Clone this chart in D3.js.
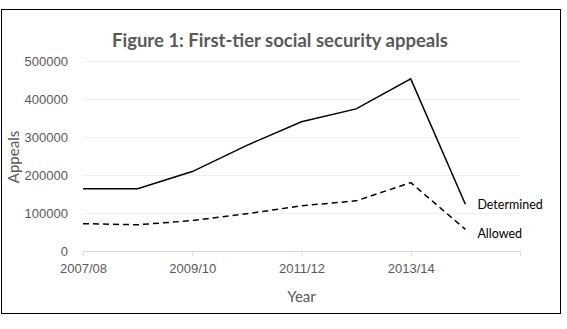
<!DOCTYPE html>
<html>
<head>
<meta charset="utf-8">
<script src="https://cdn.jsdelivr.net/npm/d3@7"></script>
<style>
    body { margin: 0; background: #fff; }
    svg { display: block; font-family: Lato, "Open Sans", sans-serif; }
</style>
</head>
<body>
<svg></svg>
<script>
// values
var years = ["2007/08", "2008/09", "2009/10", "2010/11", "2011/12", "2012/13", "2013/14", "2014/15"]
var determined = [164000, 164000, 209000, 278000, 340000, 374000, 453000, 123000]
var allowed = [72000, 69000, 80000, 98000, 119000, 132000, 180000, 57000]
var yTicks = [0, 100000, 200000, 300000, 400000, 500000]

var width = 567;
var height = 329;
var padL = 83, padR = 520, padT = 61, padB = 251;

var svg = d3.select("svg")
    .attr("width", width)
    .attr("height", height)

// chart frame
svg.append("rect")
    .attr("x", 1.5).attr("y", 9.5)
    .attr("width", 559).attr("height", 304)
    .attr("fill", "#fff")
    .attr("stroke", "#000")
    .attr("stroke-width", 1)

// one extra slot after the last year, like the original axis
var xScale = d3.scaleLinear()
    .domain([0, years.length])
    .range([padL, padR])

var yScale = d3.scaleLinear()
    .domain([0, 500000])
    .range([padB, padT])

var yAxis = d3.axisLeft(yScale)
    .tickValues(yTicks)
    .tickFormat(d3.format("d"))
    .tickSize(-(padR - padL))
    .tickPadding(15)

var gy = svg.append("g")
    .attr("transform", "translate(" + padL + ",0)")
    .call(yAxis)
gy.select(".domain").remove()
gy.selectAll("line").attr("stroke", "#efefef").attr("stroke-width", 1)
gy.selectAll("text")
    .attr("fill", "#595959")
    .style("font-size", "13px")

var xAxis = d3.axisBottom(xScale)
    .tickValues([0, 2, 4, 6, 8])
    .tickFormat(i => years[i] || "")
    .tickSize(5)
    .tickSizeOuter(0)
    .tickPadding(8)

var gx = svg.append("g")
    .attr("transform", "translate(0," + padB + ")")
    .call(xAxis)
gx.select(".domain").attr("stroke", "#d9d9d9")
gx.selectAll("line").attr("stroke", "#d9d9d9")
gx.selectAll("text")
    .attr("fill", "#595959")
    .style("font-size", "13px")

var line = d3.line()
    .x((d, i) => xScale(i))
    .y(d => yScale(d))

svg.append("path")
    .datum(determined)
    .attr("d", line)
    .attr("fill", "none")
    .attr("stroke", "#000")
    .attr("stroke-width", 1.5)

svg.append("path")
    .datum(allowed)
    .attr("d", line)
    .attr("fill", "none")
    .attr("stroke", "#000")
    .attr("stroke-width", 1.5)
    .attr("stroke-dasharray", "6,4")

// series labels at the last point
var last = years.length - 1
svg.append("text")
    .text("Determined")
    .attr("x", xScale(last) + 12)
    .attr("y", yScale(determined[last]) + 5)
    .attr("fill", "#000")
    .style("font-size", "12.5px")
svg.append("text")
    .text("Allowed")
    .attr("x", xScale(last) + 12)
    .attr("y", yScale(allowed[last]) + 9)
    .attr("fill", "#000")
    .style("font-size", "12.5px")

svg.append("text")
    .text("Figure 1: First-tier social security appeals")
    .attr("x", 280)
    .attr("y", 47)
    .attr("text-anchor", "middle")
    .attr("fill", "#595959")
    .style("font-size", "18.5px")
    .style("font-weight", "bold")

svg.append("text")
    .text("Year")
    .attr("x", (padL + padR) / 2)
    .attr("y", 302)
    .attr("text-anchor", "middle")
    .attr("fill", "#595959")
    .style("font-size", "15px")

svg.append("text")
    .text("Appeals")
    .attr("transform", "translate(19,157) rotate(-90)")
    .attr("text-anchor", "middle")
    .attr("fill", "#595959")
    .style("font-size", "15px")
</script>
</body>
</html>
